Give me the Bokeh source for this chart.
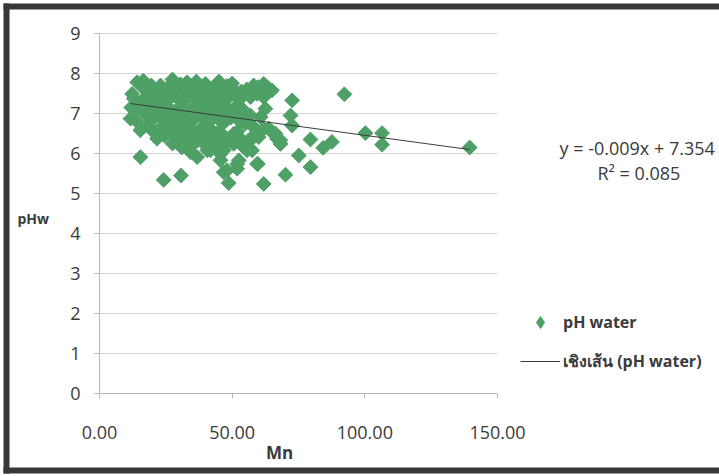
import numpy as np
from bokeh.plotting import figure
from bokeh.models import (Range1d, FixedTicker, NumeralTickFormatter, Legend, LegendItem,
                          Label, BoxAnnotation)
from bokeh.embed import file_html
from bokeh.resources import INLINE

# ---- data ----
mn = [139.5, 92.3, 72.6, 72.0, 72.6, 100.2, 106.5, 106.5, 79.5, 84.3, 87.6, 75.1, 79.5, 70.1, 61.9,
      59.7, 48.7, 46.8, 51.9, 52.5, 68.2, 66.3, 63.8, 62.5, 61.9, 63.2, 59.9, 58.1, 54.4, 56.9,
      60.7, 58.8, 60.0, 56.2, 54.4, 57.5, 49.4, 50.6, 45.6, 40.6,
      14.2, 12.3, 12.9, 11.7, 14.2, 15.4, 15.4, 24.2, 30.7, 19.8, 21.7, 17.3, 20.4, 23.0, 26.8,
      30.5, 34.3, 38.1, 39.9, 43.7, 48.1, 58.1, 61.9, 65.0, 59.4, 56.9, 51.9,
      26.8, 29.3, 33.0, 36.2, 34.3, 36.8, 40.6, 41.8, 44.3, 46.8, 49.4, 50.6, 45.6, 48.1, 51.9,
      55.6, 59.4, 65.0, 66.9, 68.2, 61.9, 59.4, 56.9,
      16.5, 18.0, 19.0, 21.0, 22.0, 23.5, 24.0, 25.0, 26.0, 27.0, 28.0, 29.0, 29.5, 31.0, 32.0,
      32.5, 33.5, 35.0, 35.5, 36.5, 37.0, 38.0, 39.0, 40.0, 41.0, 41.5, 42.5, 43.5, 44.0, 45.0,
      46.0, 46.5, 47.5, 48.5, 49.5, 50.5, 51.0, 52.5, 53.0, 54.0, 55.5, 20.0, 22.5, 25.5, 28.0,
      30.5, 31.5, 34.0, 37.5, 39.5, 42.0, 43.0, 45.0, 47.5, 38.5, 35.0, 31.0, 27.5, 24.5, 18.5,
      17.0, 13.5, 12.0, 16.0, 19.5, 33.0, 27.5, 36.5, 45.0, 44.0, 50.0, 53.5, 30.0, 26.5, 24.0,
      21.5, 23.0, 40.5, 48.0, 52.0, 55.0, 57.5, 47.0, 53.5, 39.0, 32.0, 29.0, 36.0, 43.0]
ph_water = [6.15, 7.48, 7.33, 6.95, 6.70, 6.51, 6.51, 6.22, 6.35, 6.14, 6.29, 5.95, 5.66, 5.47, 5.24,
            5.74, 5.26, 5.53, 5.62, 5.83, 6.33, 6.50, 6.62, 7.12, 7.41, 7.66, 7.66, 7.58, 7.46, 6.95,
            6.91, 6.49, 6.41, 6.33, 6.16, 6.08, 6.37, 6.24, 5.99, 6.08,
            7.78, 7.49, 7.37, 6.87, 6.79, 6.58, 5.91, 5.34, 5.45, 6.58, 6.37, 6.99, 7.49, 7.70, 7.71,
            7.73, 7.70, 7.68, 7.74, 7.70, 7.69, 7.70, 7.74, 7.58, 7.49, 7.41, 7.20,
            6.58, 6.37, 6.37, 6.45, 6.03, 5.91, 6.33, 6.08, 6.24, 6.08, 6.33, 6.49, 5.83, 5.58, 5.74,
            6.08, 5.74, 6.54, 6.37, 6.24, 6.62, 6.54, 6.33,
            7.82, 7.45, 7.20, 7.60, 7.05, 7.35, 6.85, 7.55, 7.15, 6.90, 7.45, 7.60, 7.00, 7.30, 6.75,
            7.55, 7.10, 7.40, 6.85, 7.65, 7.20, 6.95, 7.45, 7.05, 7.55, 6.80, 7.30, 7.50, 6.95, 7.25,
            7.60, 6.75, 7.05, 7.40, 6.90, 7.60, 7.00, 7.35, 6.80, 7.10, 7.60, 6.85, 6.60, 6.70, 6.55,
            6.60, 6.90, 6.65, 6.55, 6.70, 6.60, 6.45, 6.55, 6.40, 6.30, 6.20, 6.15, 6.25, 6.45, 6.70,
            7.60, 7.10, 7.15, 7.30, 7.70, 7.78, 7.85, 7.80, 7.80, 7.35, 7.75, 7.55, 7.15, 7.40, 7.10,
            7.30, 6.95, 7.30, 7.15, 6.55, 6.75, 6.70, 6.20, 6.35, 6.45, 6.45, 6.85, 7.05, 7.10]

slope = -0.009
intercept = 7.354
r_squared = 0.085
x_ticks = [0, 50, 100, 150]
y_ticks = [0, 1, 2, 3, 4, 5, 6, 7, 8, 9]
series_name = "pH water"
trend_name = "เชิงเส้น (pH water)"
x_title = "Mn"
y_title = "pHw"

FONT = "Open Sans"
GREEN = "#4ea066"
TXT = "#3a3a3a"
AXIS = "#b8b8b8"
FRAME = "#383838"

# The frame covers the whole canvas; the axes sit at fixed data positions,
# so texts outside the plotting area (legend, equation, titles) are not clipped.
W, H = 719, 476
px_x0, px_x150 = 99.0, 497.0      # pixel positions of x = 0 and x = 150
px_y0, px_y9 = 393.0, 33.0        # pixel positions of y = 0 and y = 9
sx = (px_x150 - px_x0) / 150.0
sy = (px_y0 - px_y9) / 9.0
x_rng = Range1d(-px_x0 / sx, (W - px_x0) / sx)
y_rng = Range1d(-(H - px_y0) / sy, px_y0 / sy)


def dx(px):
    return (px - px_x0) / sx


def dy(py):
    return (px_y0 - py) / sy


p = figure(width=W, height=H, output_backend="svg", toolbar_location=None,
           x_range=x_rng, y_range=y_rng,
           min_border_left=0, min_border_right=0, min_border_top=0, min_border_bottom=0)
p.outline_line_color = None
p.background_fill_color = "white"
p.border_fill_color = "white"
p.xgrid.visible = False
p.ygrid.visible = False

# horizontal gridlines between the first and last x tick
p.segment(x0=x_ticks[0], x1=x_ticks[-1], y0=y_ticks[1:], y1=y_ticks[1:],
          line_color="#d4d4d4", line_width=1)

# axes at fixed data positions
p.xaxis.fixed_location = 0
p.yaxis.fixed_location = 0
p.xaxis.bounds = (x_ticks[0], x_ticks[-1])
p.yaxis.bounds = (y_ticks[0], y_ticks[-1])
p.xaxis.ticker = FixedTicker(ticks=x_ticks)
p.xaxis.formatter = NumeralTickFormatter(format="0.00")
p.yaxis.ticker = FixedTicker(ticks=y_ticks)
for ax in (p.xaxis[0], p.yaxis[0]):
    ax.axis_line_color = AXIS
    ax.major_tick_line_color = AXIS
    ax.major_tick_in = 0
    ax.major_tick_out = 5
    ax.minor_tick_line_color = None
    ax.major_label_text_font = FONT
    ax.major_label_text_font_size = "18px"
    ax.major_label_text_color = TXT
p.xaxis.major_label_standoff = 27
p.yaxis.major_label_standoff = 14

# legend symbol: a diamond drawn under the first data point (hidden by it)
proxy = p.scatter(mn[:1], ph_water[:1], marker="diamond", size=10,
                  fill_color=GREEN, line_color=GREEN)
# scatter (diamonds)
sc = p.scatter(mn, ph_water, marker="square", angle=np.pi / 4, size=10.5,
               fill_color=GREEN, line_color=GREEN)

# linear trend line from the regression coefficients
xs = np.array([min(mn), max(mn)])
tl = p.line(xs, slope * xs + intercept, line_color="#3c3c3c", line_width=1)

# legend
legend = Legend(items=[LegendItem(label=series_name, renderers=[proxy]),
                       LegendItem(label=trend_name, renderers=[tl])],
                location=(520, 100), orientation="vertical",
                glyph_width=40, glyph_height=30, spacing=9, padding=0, margin=0,
                label_standoff=3, border_line_color=None, background_fill_alpha=0,
                label_text_font=FONT, label_text_font_size="16px",
                label_text_font_style="bold", label_text_color=TXT)
p.add_layout(legend, "center")

# regression equation
p.add_layout(Label(x=dx(559), y=dy(147), text=f"y = {slope:.3f}x + {intercept:.3f}",
                   text_font=FONT, text_font_size="18px", text_color=TXT,
                   text_baseline="middle", text_align="left"))
p.add_layout(Label(x=dx(597), y=dy(172), text=f"R² = {r_squared:.3f}",
                   text_font=FONT, text_font_size="18px", text_color=TXT,
                   text_baseline="middle", text_align="left"))

# axis titles
p.add_layout(Label(x=dx(17), y=dy(218), text=y_title,
                   text_font=FONT, text_font_size="14px", text_font_style="bold",
                   text_color=TXT, text_baseline="middle", text_align="left"))
p.add_layout(Label(x=dx(279), y=dy(452), text=x_title,
                   text_font=FONT, text_font_size="17px", text_font_style="bold",
                   text_color=TXT, text_baseline="middle", text_align="center"))

# outer chart border (left, top and bottom bands)
band = dict(left_units="canvas", right_units="canvas", top_units="canvas",
            bottom_units="canvas", fill_color=FRAME, fill_alpha=1, line_alpha=0)
p.add_layout(BoxAnnotation(left=3, right=9, top=3, bottom=473, **band))
p.add_layout(BoxAnnotation(left=3, right=W, top=3, bottom=9, **band))
p.add_layout(BoxAnnotation(left=3, right=W, top=467, bottom=473, **band))

open("out.html", "w").write(file_html(p, INLINE))
